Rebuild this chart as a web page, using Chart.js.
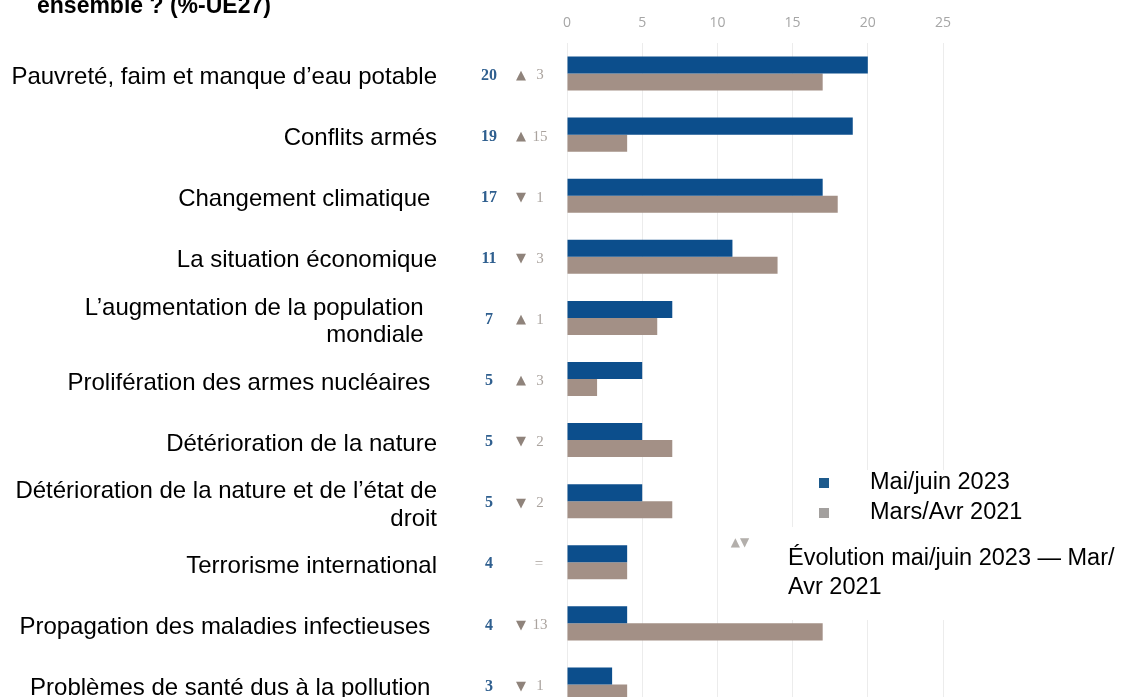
<!DOCTYPE html>
<html lang="fr">
<head>
<meta charset="utf-8">
<script src="https://cdn.jsdelivr.net/npm/chart.js@4.4.1/dist/chart.umd.min.js"></script>
<style>
  html, body { margin: 0; padding: 0; background: #fff; overflow: hidden; }
  #wrap { position: relative; width: 1123px; height: 715px; }
</style>
</head>
<body>
<div id="wrap"><canvas id="graph" width="1123" height="715"></canvas></div>
<script>
// data
const categories = [
    'Pauvreté, faim et manque d’eau potable',
    'Conflits armés',
    'Changement climatique ',
    'La situation économique',
    ['L’augmentation de la population  ', 'mondiale  '],
    'Prolifération des armes nucléaires ',
    'Détérioration de la nature',
    ['Détérioration de la nature et de l’état de', 'droit'],
    'Terrorisme international',
    'Propagation des maladies infectieuses ',
    'Problèmes de santé dus à la pollution '
];
const mai2023 = [20, 19, 17, 11, 7, 5, 5, 5, 4, 4, 3];
const mars2021 = [17, 4, 18, 14, 6, 2, 7, 7, 4, 17, 4];
const xTicks = [0, 5, 10, 15, 20, 25];
const seriesNames = ['Mai/juin 2023', 'Mars/Avr 2021'];
const titleText = 'ensemble ? (%-UE27)';
const evolutionNote = ['Évolution mai/juin 2023 — Mar/', 'Avr 2021'];

const BLUE = 'rgb(12, 78, 140)';
const TAUPE = 'rgb(163, 144, 134)';

// title, value/evolution columns and the legend box
const annotations = {
    id: 'annotations',
    beforeDatasetsDraw(chart) {
        const ctx = chart.ctx;
        ctx.save();
        ctx.fillStyle = '#fff';
        ctx.fillRect(800, 470, 215, 150);
        ctx.fillRect(776, 527, 239, 93);
        ctx.restore();
    },
    afterDatasetsDraw(chart) {
        const ctx = chart.ctx;
        const y = chart.scales.y;
        ctx.save();

        // title (first lines are cut off at the top)
        ctx.fillStyle = '#000';
        ctx.font = 'bold 23px "Liberation Sans", Arial, sans-serif';
        ctx.textAlign = 'left';
        ctx.textBaseline = 'alphabetic';
        ctx.fillText(titleText, 37, 12.5);

        ctx.textBaseline = 'middle';
        mai2023.forEach((v, i) => {
            const py = y.getPixelForValue(i) + 2;
            ctx.textAlign = 'center';
            ctx.fillStyle = '#2f5f8f';
            ctx.font = 'bold 16px "Liberation Serif", serif';
            ctx.fillText(String(v), 489, py);

            const diff = v - mars2021[i];
            ctx.font = '15px "Liberation Serif", serif';
            ctx.fillStyle = '#aaa39e';
            if (diff === 0) {
                ctx.fillText('=', 539, py);
            } else {
                ctx.fillText(String(Math.abs(diff)), 540, py);
                ctx.fillStyle = '#8f837b';
                ctx.font = '13px "DejaVu Sans", sans-serif';
                ctx.fillText(diff > 0 ? '▲' : '▼', 521, py);
            }
        });

        // legend
        const swatches = ['#1d5a8c', '#a3a09e'];
        ctx.textAlign = 'left';
        ctx.font = '23.5px "Liberation Sans", Arial, sans-serif';
        seriesNames.forEach((name, i) => {
            const cy = 483 + i * 30;
            ctx.fillStyle = swatches[i];
            ctx.fillRect(819, cy - 5, 10, 10);
            ctx.fillStyle = '#000';
            ctx.fillText(name, 870, cy);
        });
        ctx.fillStyle = '#b3afab';
        ctx.font = '12px "DejaVu Sans", sans-serif';
        ctx.textAlign = 'center';
        ctx.fillText('▲▼', 740, 543);
        ctx.fillStyle = '#000';
        ctx.textAlign = 'left';
        ctx.font = '23.5px "Liberation Sans", Arial, sans-serif';
        evolutionNote.forEach((line, i) => {
            ctx.fillText(line, 788, 559 + i * 29);
        });
        ctx.restore();
    }
};

const data1 = {
    labels: categories,
    datasets: [{
        label: seriesNames[0],
        data: mai2023,
        backgroundColor: BLUE,
        categoryPercentage: 0.557,
        barPercentage: 1.0
    }, {
        label: seriesNames[1],
        data: mars2021,
        backgroundColor: TAUPE,
        categoryPercentage: 0.557,
        barPercentage: 1.0
    }]
};

const config = {
    type: 'bar',
    data: data1,
    plugins: [annotations],
    options: {
        indexAxis: 'y',
        responsive: false,
        devicePixelRatio: 1,
        animation: false,
        layout: { padding: { left: 0, right: 180, top: 0, bottom: 0 } },
        plugins: {
            legend: { display: false },
            tooltip: { enabled: false }
        },
        scales: {
            x: {
                position: 'top',
                min: 0,
                max: 25,
                afterBuildTicks: (scale) => { scale.ticks = xTicks.map(v => ({ value: v })); },
                afterFit: (scale) => {
                    scale.height = 43;
                    scale.paddingLeft = 0;
                    scale.paddingRight = 0;
                },
                grid: { color: '#ececec', lineWidth: 1, drawTicks: false },
                border: { display: false },
                ticks: {
                    padding: 12,
                    color: '#a6a6a6',
                    font: { family: '"Open Sans", sans-serif', size: 14 }
                }
            },
            y: {
                afterFit: (scale) => {
                    scale.width = 567;
                    scale.paddingTop = 0;
                    scale.paddingBottom = 0;
                },
                grid: { display: false },
                border: { display: false },
                ticks: {
                    autoSkip: false,
                    padding: 122,
                    labelOffset: 4,
                    color: '#000',
                    font: { family: '"Liberation Sans", Arial, sans-serif', size: 24, lineHeight: 1.15 }
                }
            }
        }
    }
};

const ctx = document.getElementById('graph').getContext('2d');
new Chart(ctx, config);
</script>
</body>
</html>
